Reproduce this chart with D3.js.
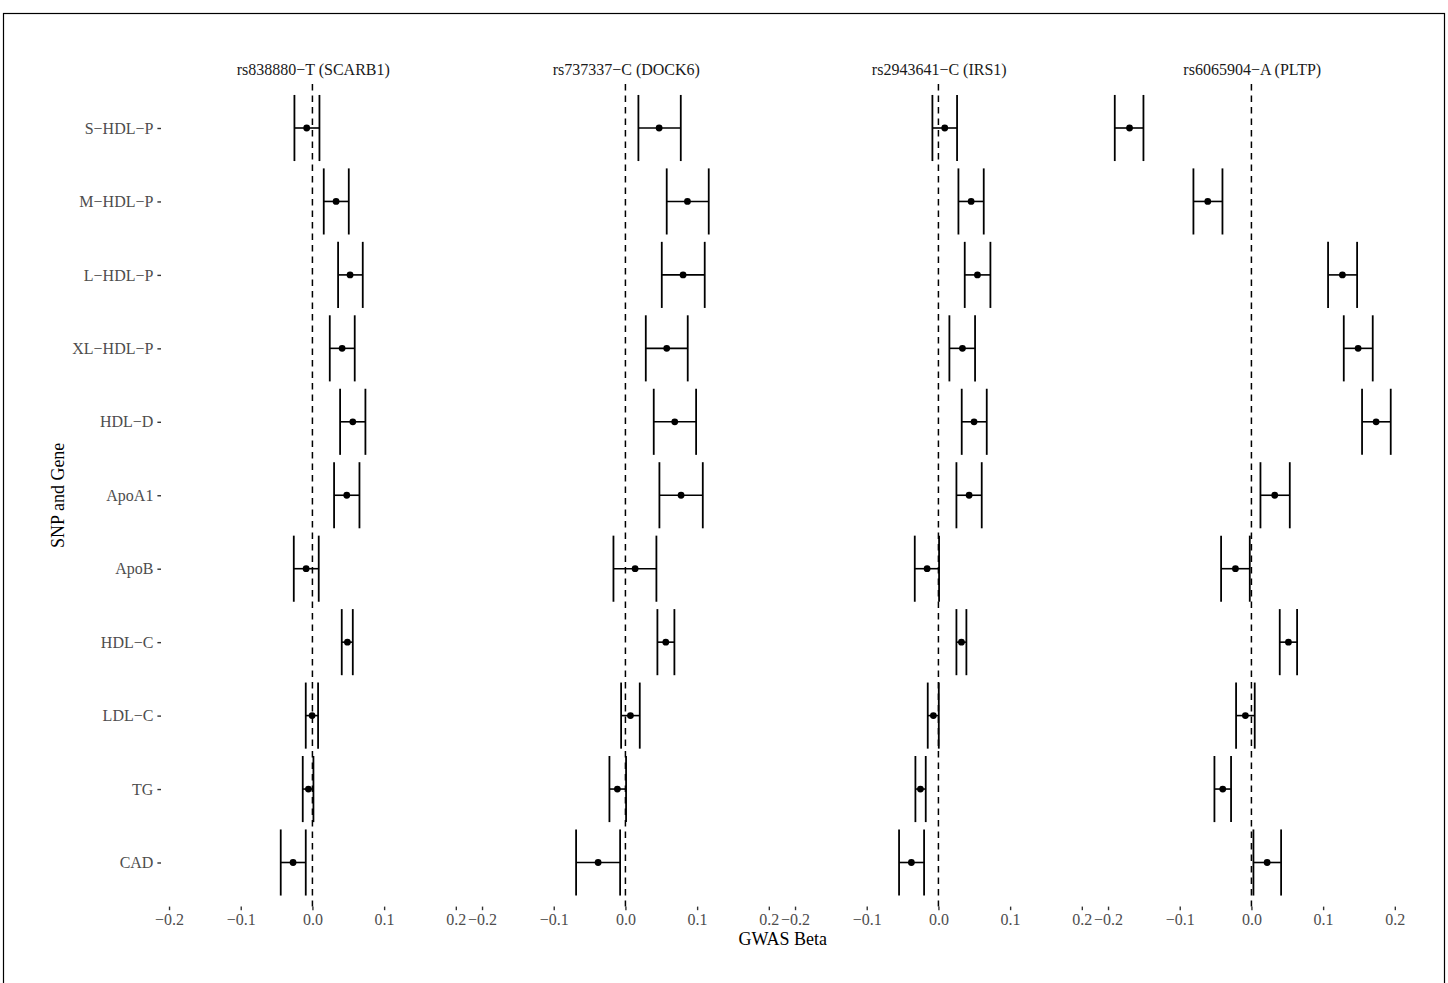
<!DOCTYPE html>
<html><head><meta charset="utf-8">
<script src="https://cdn.jsdelivr.net/npm/d3@7"></script>
<style>body{margin:0;background:#fff;overflow:hidden}</style>
</head><body>
<script>
// ---- data ----
const outcomes = ["S\u2212HDL\u2212P","M\u2212HDL\u2212P","L\u2212HDL\u2212P","XL\u2212HDL\u2212P","HDL\u2212D","ApoA1","ApoB","HDL\u2212C","LDL\u2212C","TG","CAD"];
const snps = ["rs838880\u2212T (SCARB1)","rs737337\u2212C (DOCK6)","rs2943641\u2212C (IRS1)","rs6065904\u2212A (PLTP)"];
const xTicks = [-0.2,-0.1,0.0,0.1,0.2];

const betaSCARB1  = [-0.008, 0.033, 0.0525, 0.0414, 0.0563, 0.0479, -0.0088, 0.0488, -0.0005, -0.0056, -0.027];
const lowerSCARB1 = [-0.0251, 0.0158, 0.0358, 0.0242, 0.0386, 0.0302, -0.026, 0.0409, -0.0093, -0.0135, -0.0442];
const upperSCARB1 = [0.0098, 0.0507, 0.0702, 0.059, 0.0739, 0.0656, 0.0088, 0.0563, 0.0079, 0.0014, -0.0093];

const betaDOCK6  = [0.047, 0.0865, 0.0804, 0.0576, 0.0688, 0.0776, 0.0135, 0.0563, 0.007, -0.0112, -0.0381];
const lowerDOCK6 = [0.0181, 0.0576, 0.0507, 0.0284, 0.0395, 0.0474, -0.0167, 0.0446, -0.006, -0.0223, -0.0688];
const upperDOCK6 = [0.0772, 0.1162, 0.1106, 0.0869, 0.0986, 0.1079, 0.0432, 0.0683, 0.02, 0.0009, -0.0074];

const betaIRS1  = [0.0088, 0.0456, 0.0544, 0.0335, 0.0497, 0.0428, -0.0158, 0.0321, -0.007, -0.0251, -0.0377];
const lowerIRS1 = [-0.0084, 0.0279, 0.0367, 0.0153, 0.0325, 0.0251, -0.033, 0.0251, -0.0149, -0.0321, -0.0549];
const upperIRS1 = [0.026, 0.0632, 0.0725, 0.0511, 0.0674, 0.0604, 0.0009, 0.039, 0.0005, -0.0177, -0.02];

const betaPLTP  = [-0.170, -0.0609, 0.1269, 0.1488, 0.1739, 0.0325, -0.0223, 0.0516, -0.0084, -0.04, 0.0219];
const lowerPLTP = [-0.1906, -0.0809, 0.1069, 0.1288, 0.1543, 0.0126, -0.0423, 0.0395, -0.0214, -0.0516, 0.0028];
const upperPLTP = [-0.1506, -0.0404, 0.1474, 0.1692, 0.1943, 0.0535, -0.0023, 0.0637, 0.0046, -0.0284, 0.0414];

const panels = [
  {title: snps[0], beta: betaSCARB1, lo: lowerSCARB1, hi: upperSCARB1},
  {title: snps[1], beta: betaDOCK6,  lo: lowerDOCK6,  hi: upperDOCK6},
  {title: snps[2], beta: betaIRS1,   lo: lowerIRS1,   hi: upperIRS1},
  {title: snps[3], beta: betaPLTP,   lo: lowerPLTP,   hi: upperPLTP}
];

// ---- layout ----
const W = 1448, H = 983;
const font = "'Liberation Serif','Times New Roman',serif";
const left0 = 161, panelStep = 313, panelW = 304.5;
const panelTop = 84, panelBottom = 906.6;

const svg = d3.select("body").append("svg").attr("width", W).attr("height", H)
  .style("font-family", font);

svg.append("rect").attr("x", 3.5).attr("y", 13.5).attr("width", 1441).attr("height", 1100)
  .attr("fill", "none").attr("stroke", "#000").attr("stroke-width", 1.2);

const x = d3.scaleLinear().domain([-0.2112, 0.2135]).range([0, panelW]);
const y = d3.scalePoint().domain(outcomes).range([128, 862.5]);
const step = y.step();
const capH = step * 0.45;
const fmt = d3.format(".1f");

// y axis
const yAxisG = svg.append("g").attr("transform", `translate(${left0},0)`);
yAxisG.call(d3.axisLeft(y).tickSize(3.6).tickPadding(4));
yAxisG.select(".domain").remove();
yAxisG.selectAll(".tick line").attr("stroke", "#333").attr("stroke-width", 1.4);
yAxisG.selectAll(".tick text").attr("fill", "#4d4d4d").style("font-size", "16px").style("font-family", font);

panels.forEach((p, i) => {
  const g = svg.append("g").attr("transform", `translate(${left0 + i * panelStep},0)`);

  // strip title
  g.append("text").attr("x", panelW / 2).attr("y", 71).attr("text-anchor", "middle")
    .attr("dominant-baseline", "middle").style("font-size", "16px").attr("fill", "#1a1a1a")
    .text(p.title);

  // x axis
  const xa = g.append("g").attr("transform", `translate(0,${panelBottom})`)
    .call(d3.axisBottom(x).tickValues(xTicks).tickFormat(fmt).tickSize(3.6).tickPadding(3));
  xa.select(".domain").remove();
  xa.selectAll(".tick line").attr("stroke", "#333").attr("stroke-width", 1.4);
  xa.selectAll(".tick text").attr("fill", "#4d4d4d").style("font-size", "16px").style("font-family", font);

  // zero line
  g.append("line").attr("x1", x(0)).attr("x2", x(0)).attr("y1", panelTop).attr("y2", panelBottom)
    .attr("stroke", "#000").attr("stroke-width", 1.5).attr("stroke-dasharray", "6.5,5");

  const rows = outcomes.map((o, k) => ({o, b: p.beta[k], lo: p.lo[k], hi: p.hi[k]}));
  const eb = g.selectAll("g.eb").data(rows).enter().append("g").attr("class", "eb");
  eb.append("line").attr("x1", d => x(d.lo)).attr("x2", d => x(d.hi))
    .attr("y1", d => y(d.o)).attr("y2", d => y(d.o)).attr("stroke", "#000").attr("stroke-width", 1.6);
  eb.append("line").attr("x1", d => x(d.lo)).attr("x2", d => x(d.lo))
    .attr("y1", d => y(d.o) - capH).attr("y2", d => y(d.o) + capH).attr("stroke", "#000").attr("stroke-width", 1.8);
  eb.append("line").attr("x1", d => x(d.hi)).attr("x2", d => x(d.hi))
    .attr("y1", d => y(d.o) - capH).attr("y2", d => y(d.o) + capH).attr("stroke", "#000").attr("stroke-width", 1.8);
  eb.append("circle").attr("cx", d => x(d.b)).attr("cy", d => y(d.o)).attr("r", 3.4).attr("fill", "#000");
});

// axis titles
const plotRight = left0 + 3 * panelStep + panelW;
svg.append("text").attr("x", (left0 + plotRight) / 2).attr("y", 941).attr("text-anchor", "middle")
  .attr("dominant-baseline", "middle").style("font-size", "18px").text("GWAS Beta");
svg.append("text").attr("transform", `translate(60,${(panelTop + panelBottom) / 2}) rotate(-90)`)
  .attr("text-anchor", "middle").attr("dominant-baseline", "middle").style("font-size", "18px")
  .text("SNP and Gene");
</script>
</body></html>
